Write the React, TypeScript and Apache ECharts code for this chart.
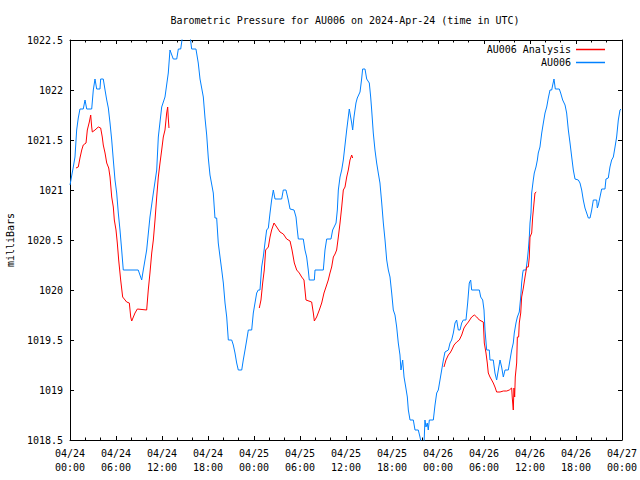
import React, { useEffect, useRef } from "react";
import * as echarts from "echarts";

// Hours since 2024-04-24 00:00 UTC, pressure in milliBars
const au006: [number, number][] = [
  [0, 1021.05], [0.43, 1021.23], [0.65, 1021.33], [0.87, 1021.6], [1.08, 1021.72], [1.3, 1021.81],
  [1.73, 1021.81], [1.96, 1021.9], [2.18, 1021.81], [2.83, 1021.81], [3.04, 1022.0], [3.26, 1022.11],
  [3.48, 1022.01], [3.91, 1022.01], [4.0, 1022.11], [4.34, 1022.11], [4.57, 1022.0], [4.79, 1021.9],
  [5.0, 1021.82], [5.22, 1021.67], [5.44, 1021.5], [5.65, 1021.3], [5.87, 1021.1], [6.09, 1020.97],
  [6.3, 1020.77], [6.52, 1020.6], [6.74, 1020.4], [6.95, 1020.2], [8.9, 1020.2], [9.35, 1020.1],
  [9.56, 1020.2], [10.0, 1020.4], [10.43, 1020.73], [10.87, 1020.97], [11.31, 1021.2], [11.52, 1021.53],
  [11.96, 1021.83], [12.39, 1021.93], [12.82, 1022.17], [13.04, 1022.4], [13.47, 1022.31], [13.92, 1022.31],
  [14.13, 1022.41], [14.44, 1022.41], [14.7, 1022.55], [15.65, 1022.55], [15.87, 1022.41], [16.43, 1022.41],
  [16.73, 1022.27], [16.96, 1022.11], [17.39, 1021.93], [17.61, 1021.72], [17.83, 1021.55], [18.04, 1021.32],
  [18.26, 1021.15], [18.69, 1020.97], [18.91, 1020.72], [19.13, 1020.72], [19.34, 1020.47], [19.57, 1020.33],
  [19.79, 1020.2], [20.0, 1020.07], [20.22, 1019.87], [20.44, 1019.73], [20.65, 1019.5], [21.09, 1019.5],
  [21.3, 1019.45], [21.52, 1019.37], [21.74, 1019.27], [21.95, 1019.2], [22.4, 1019.2], [22.6, 1019.3],
  [22.83, 1019.4], [23.05, 1019.5], [23.26, 1019.6], [23.7, 1019.6], [23.91, 1019.77], [24.13, 1019.87],
  [24.35, 1019.97], [24.56, 1020.0], [24.78, 1020.0], [25.0, 1020.23], [25.21, 1020.33], [25.43, 1020.47],
  [25.65, 1020.6], [25.87, 1020.62], [26.09, 1020.77], [26.3, 1020.9], [26.52, 1021.0], [26.74, 1020.91],
  [27.61, 1020.91], [27.82, 1021.0], [28.17, 1021.0], [28.47, 1020.9], [28.7, 1020.81], [29.22, 1020.8],
  [29.48, 1020.73], [29.65, 1020.6], [29.78, 1020.51], [30.43, 1020.51], [30.65, 1020.4], [30.87, 1020.33],
  [31.08, 1020.2], [31.21, 1020.1], [31.87, 1020.1], [31.96, 1020.2], [33.04, 1020.2], [33.26, 1020.4],
  [33.48, 1020.51], [34.04, 1020.51], [34.26, 1020.6], [34.7, 1020.67], [34.87, 1020.8], [35.0, 1021.0],
  [35.22, 1021.13], [35.44, 1021.2], [35.65, 1021.3], [35.87, 1021.45], [36.09, 1021.6], [36.3, 1021.73],
  [36.43, 1021.81], [36.74, 1021.67], [36.87, 1021.6], [37.04, 1021.73], [37.3, 1021.87], [37.47, 1021.92],
  [37.83, 1021.98], [38.04, 1022.11], [38.17, 1022.21], [38.48, 1022.21], [38.7, 1022.11], [39.04, 1022.07],
  [39.22, 1021.93], [39.35, 1021.8], [39.56, 1021.57], [39.78, 1021.4], [40.0, 1021.27], [40.21, 1021.17],
  [40.43, 1021.07], [40.66, 1020.87], [40.87, 1020.67], [41.09, 1020.5], [41.31, 1020.3], [41.52, 1020.2],
  [41.74, 1020.13], [41.96, 1019.97], [42.17, 1019.8], [42.39, 1019.75], [42.61, 1019.63], [42.82, 1019.47],
  [43.04, 1019.35], [43.17, 1019.2], [43.39, 1019.3], [43.57, 1019.13], [43.79, 1019.03], [44.0, 1018.93],
  [44.13, 1018.8], [44.35, 1018.7], [44.78, 1018.7], [45.0, 1018.6], [45.43, 1018.6], [45.65, 1018.53],
  [45.87, 1018.45], [46.17, 1018.45], [46.3, 1018.7], [46.43, 1018.63], [46.6, 1018.67], [46.73, 1018.6],
  [46.87, 1018.7], [47.39, 1018.7], [47.61, 1018.85], [47.83, 1018.97], [48.04, 1019.0], [48.26, 1019.1],
  [48.48, 1019.2], [48.7, 1019.3], [48.91, 1019.38], [49.35, 1019.4], [49.57, 1019.47], [49.78, 1019.5],
  [50.0, 1019.57], [50.22, 1019.67], [50.43, 1019.7], [50.65, 1019.6], [50.87, 1019.6], [51.09, 1019.67],
  [51.3, 1019.7], [51.65, 1019.7], [51.87, 1019.87], [52.08, 1020.07], [52.26, 1020.1], [52.39, 1020.0],
  [53.39, 1020.0], [53.57, 1019.93], [53.83, 1019.9], [54.0, 1019.8], [54.13, 1019.6], [54.35, 1019.4],
  [54.69, 1019.4], [54.78, 1019.3], [55.21, 1019.3], [55.43, 1019.17], [55.65, 1019.1], [55.87, 1019.2],
  [56.09, 1019.3], [56.3, 1019.23], [56.52, 1019.13], [56.74, 1019.2], [57.17, 1019.2], [57.39, 1019.3],
  [57.61, 1019.4], [57.82, 1019.47], [57.95, 1019.57], [58.17, 1019.67], [58.35, 1019.73], [58.6, 1019.78],
  [58.79, 1019.93], [58.91, 1020.07], [59.05, 1020.17], [59.13, 1020.2], [59.48, 1020.2], [59.65, 1020.3],
  [59.78, 1020.4], [59.91, 1020.53], [60.0, 1020.67], [60.13, 1020.77], [60.22, 1020.97], [60.43, 1021.1],
  [60.56, 1021.17], [60.78, 1021.23], [60.96, 1021.3], [61.08, 1021.37], [61.3, 1021.43], [61.53, 1021.57],
  [61.74, 1021.67], [61.96, 1021.77], [62.18, 1021.83], [62.39, 1021.92], [62.61, 1022.0], [62.83, 1022.0],
  [62.96, 1022.05], [63.13, 1022.11], [63.3, 1022.01], [63.82, 1022.01], [64.0, 1021.97], [64.26, 1021.9],
  [64.57, 1021.85], [64.78, 1021.77], [65.0, 1021.6], [65.22, 1021.47], [65.44, 1021.33], [65.65, 1021.2],
  [65.87, 1021.11], [66.3, 1021.1], [66.52, 1021.07], [66.74, 1021.0], [66.95, 1020.9], [67.17, 1020.82],
  [67.39, 1020.77], [67.61, 1020.72], [67.83, 1020.72], [68.05, 1020.8], [68.26, 1020.9], [68.7, 1020.9],
  [68.78, 1020.82], [68.91, 1020.85], [69.13, 1020.93], [69.35, 1021.01], [69.78, 1021.01], [69.91, 1021.11],
  [70.21, 1021.12], [70.43, 1021.23], [70.65, 1021.3], [70.87, 1021.33], [71.09, 1021.43], [71.3, 1021.53],
  [71.52, 1021.7], [71.74, 1021.8], [71.87, 1021.81],
];

const analysisRun1: [number, number][] = [
  [0.78, 1021.22], [1.08, 1021.23], [1.3, 1021.32], [1.53, 1021.4], [1.73, 1021.45], [2.09, 1021.47],
  [2.26, 1021.6], [2.52, 1021.68], [2.7, 1021.75], [2.83, 1021.63], [2.91, 1021.58], [3.26, 1021.6],
  [3.69, 1021.63], [4.0, 1021.62], [4.21, 1021.53], [4.34, 1021.45], [4.57, 1021.37], [4.79, 1021.27],
  [5.05, 1021.22], [5.22, 1021.13], [5.44, 1020.93], [5.65, 1020.83], [5.78, 1020.7], [6.0, 1020.6],
  [6.17, 1020.47], [6.35, 1020.3], [6.61, 1020.1], [6.87, 1019.93], [7.39, 1019.88], [7.74, 1019.87],
  [7.92, 1019.73], [8.05, 1019.69], [8.48, 1019.77], [8.78, 1019.81], [10.0, 1019.8], [10.21, 1020.0],
  [10.43, 1020.17], [10.66, 1020.37], [10.87, 1020.5], [11.09, 1020.7], [11.31, 1020.93], [11.52, 1021.13],
  [11.74, 1021.27], [11.96, 1021.4], [12.17, 1021.53], [12.39, 1021.6], [12.61, 1021.77], [12.74, 1021.83],
  [12.82, 1021.72], [12.91, 1021.62],
];

const analysisRun2: [number, number][] = [
  [24.69, 1019.82], [24.91, 1019.9], [25.13, 1020.07], [25.34, 1020.2], [25.52, 1020.4], [25.87, 1020.43],
  [26.09, 1020.53], [26.3, 1020.6], [26.61, 1020.67], [26.96, 1020.63], [27.39, 1020.58], [27.82, 1020.56],
  [28.26, 1020.51], [28.7, 1020.49], [28.96, 1020.4], [29.26, 1020.27], [29.57, 1020.2], [29.91, 1020.17],
  [30.22, 1020.13], [30.52, 1020.1], [30.78, 1019.9], [31.52, 1019.88], [31.74, 1019.77], [31.87, 1019.69],
  [32.17, 1019.73], [32.52, 1019.8], [32.83, 1019.87], [33.13, 1019.97], [33.39, 1020.03], [33.69, 1020.1],
  [33.91, 1020.17], [34.13, 1020.23], [34.35, 1020.33], [34.57, 1020.36], [34.78, 1020.4], [35.0, 1020.53],
  [35.22, 1020.67], [35.44, 1020.83], [35.65, 1021.0], [35.87, 1021.03], [36.09, 1021.13], [36.3, 1021.2],
  [36.52, 1021.3], [36.74, 1021.35], [36.87, 1021.32],
];

const analysisRun3: [number, number][] = [
  [48.78, 1019.23], [49.04, 1019.3], [49.35, 1019.35], [49.57, 1019.37], [49.79, 1019.4], [50.09, 1019.45],
  [50.44, 1019.48], [50.78, 1019.5], [51.09, 1019.55], [51.39, 1019.62], [51.65, 1019.65], [51.96, 1019.68],
  [52.39, 1019.73], [52.74, 1019.75], [53.05, 1019.73], [53.39, 1019.7], [53.91, 1019.68], [54.04, 1019.47],
  [54.26, 1019.37], [54.43, 1019.27], [54.56, 1019.17], [54.78, 1019.13], [55.0, 1019.1], [55.21, 1019.07],
  [55.43, 1019.03], [55.65, 1018.98], [56.09, 1018.98], [56.52, 1018.99], [56.96, 1018.99], [57.3, 1019.0],
  [57.61, 1019.02], [57.69, 1018.92], [57.82, 1018.8], [57.91, 1019.02], [58.0, 1018.93], [58.08, 1019.13],
  [58.26, 1019.27], [58.35, 1019.53], [58.52, 1019.53], [58.6, 1019.67], [58.79, 1019.77], [58.91, 1019.93],
  [59.13, 1020.02], [59.35, 1020.13], [59.57, 1020.23], [59.78, 1020.23], [59.91, 1020.33], [60.0, 1020.53],
  [60.22, 1020.57], [60.35, 1020.73], [60.52, 1020.87], [60.65, 1020.97], [60.82, 1020.98],
];

const startDay = 24;
const seriesNames = ["AU006 Analysis", "AU006"];
const titleText = "Barometric Pressure for AU006 on 2024-Apr-24 (time in UTC)";

const FONT = "DejaVu Sans Mono";
const RED = "#ff0000";
const BLUE = "#0080ff";

function xLabel(v: number): string {
  const day = startDay + Math.floor(v / 24);
  const hh = Math.round(v % 24);
  return `04/${day}\n${String(hh).padStart(2, "0")}:00`;
}

export default function App() {
  const ref = useRef<HTMLDivElement>(null);
  useEffect(() => {
    if (!ref.current) return;
    const chart = echarts.init(ref.current, null, { renderer: "svg" });
    const axisLine = { show: true, onZero: false, lineStyle: { color: "#000", width: 1 } };
    const baseX = {
      type: "value" as const,
      min: 0,
      max: 72,
      interval: 6,
      axisLine,
      splitLine: { show: false },
      axisTick: { show: true, inside: true, length: 4, lineStyle: { color: "#000" } },
      minorTick: { show: true, splitNumber: 3, length: 2.5, lineStyle: { color: "#000" } },
    };
    const baseY = {
      type: "value" as const,
      min: 1018.5,
      max: 1022.5,
      interval: 0.5,
      axisLine,
      splitLine: { show: false },
      axisTick: { show: true, inside: true, length: 4, lineStyle: { color: "#000" } },
    };
    const lineSeries = (name: string, data: [number, number][], color: string) => ({
      name,
      type: "line" as const,
      data,
      showSymbol: false,
      symbol: "none",
      lineStyle: { color, width: 1 },
      itemStyle: { color },
      clip: true,
      z: name === "AU006" ? 2 : 3,
    });
    chart.setOption({
      animation: false,
      backgroundColor: "#fff",
      textStyle: { fontFamily: FONT },
      title: {
        text: titleText,
        left: 340,
        textAlign: "center",
        top: 10,
        textStyle: { fontFamily: FONT, fontSize: 10, fontWeight: "normal", color: "#000" },
      },
      legend: {
        data: seriesNames.map((n) => ({ name: n, icon: "rect" })),
        orient: "vertical",
        align: "right",
        right: 30,
        top: 38,
        itemWidth: 29,
        itemHeight: 1.5,
        itemGap: 0,
        textStyle: { fontFamily: FONT, fontSize: 10, color: "#000", lineHeight: 13 },
      },
      grid: { left: 70, right: 18, top: 40, bottom: 40, containLabel: false, outerBoundsMode: "none" },
      xAxis: [
        {
          ...baseX,
          position: "bottom",
          axisLabel: {
            formatter: xLabel,
            fontFamily: FONT,
            fontSize: 10,
            color: "#000",
            lineHeight: 14,
            margin: 6,
          },
        },
        { ...baseX, position: "top", axisLabel: { show: false } },
      ],
      yAxis: [
        {
          ...baseY,
          position: "left",
          name: "milliBars",
          nameLocation: "middle",
          nameGap: 55,
          nameRotate: 90,
          nameTextStyle: { fontFamily: FONT, fontSize: 10, color: "#000" },
          axisLabel: {
            formatter: (v: number) => String(v),
            fontFamily: FONT,
            fontSize: 10,
            color: "#000",
            margin: 7,
          },
        },
        { ...baseY, position: "right", axisLabel: { show: false } },
      ],
      series: [
        lineSeries("AU006 Analysis", analysisRun1, RED),
        lineSeries("AU006 Analysis", analysisRun2, RED),
        lineSeries("AU006 Analysis", analysisRun3, RED),
        lineSeries("AU006", au006, BLUE),
      ],
    });
    return () => chart.dispose();
  }, []);
  return (
    <div
      ref={ref}
      style={{ position: "fixed", left: 0, top: 0, width: 640, height: 480 }}
    />
  );
}
